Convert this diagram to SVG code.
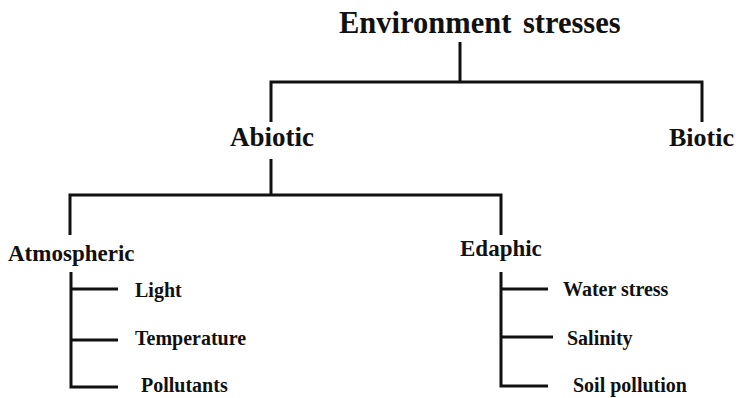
<svg xmlns="http://www.w3.org/2000/svg" width="736" height="398" viewBox="0 0 736 398">
  <style>
    .lbl { font-family: 'Liberation Serif', 'DejaVu Serif', serif; font-weight: 700; fill: #111; }
    .t0 { font-size: 30.5px; }
    .t1 { font-size: 27px; }
    .t2 { font-size: 23px; }
    .t3 { font-size: 20px; }
    .wire { fill: none; stroke: #111; stroke-width: 3; stroke-linejoin: miter; stroke-linecap: butt; }
  </style>
  <rect width="736" height="398" fill="#ffffff"/>

  <g id="connectors">
    <!-- root to Abiotic / Biotic -->
    <path class="wire" d="M460 42 V82"/>
    <path class="wire" d="M271 122 V82 H702 V122"/>
    <!-- Abiotic to Atmospheric / Edaphic -->
    <path class="wire" d="M271 159 V195"/>
    <path class="wire" d="M70 235 V195 H501 V235"/>
    <!-- Atmospheric factors -->
    <path class="wire" d="M71 272 V387 H118"/>
    <path class="wire" d="M71 289 H118"/>
    <path class="wire" d="M71 340 H118"/>
    <!-- Edaphic factors -->
    <path class="wire" d="M501 272 V386 H548"/>
    <path class="wire" d="M501 289 H548"/>
    <path class="wire" d="M501 337 H553"/>
  </g>

  <g id="node-root"><text class="lbl t0" x="339" y="33" word-spacing="4">Environment stresses</text></g>
  <g id="node-abiotic"><text class="lbl t1" x="230" y="146">Abiotic</text></g>
  <g id="node-biotic"><text class="lbl t1" x="669" y="146" style="font-size:26px">Biotic</text></g>
  <g id="node-atmospheric"><text class="lbl t2" x="8" y="261">Atmospheric</text></g>
  <g id="node-edaphic"><text class="lbl t2" x="460" y="256">Edaphic</text></g>

  <g id="node-light"><text class="lbl t3" x="135" y="297">Light</text></g>
  <g id="node-temperature"><text class="lbl t3" x="135" y="345">Temperature</text></g>
  <g id="node-pollutants"><text class="lbl t3" x="141" y="392">Pollutants</text></g>

  <g id="node-water"><text class="lbl t3" x="563" y="296">Water stress</text></g>
  <g id="node-salinity"><text class="lbl t3" x="567" y="345">Salinity</text></g>
  <g id="node-soil"><text class="lbl t3" x="573" y="392">Soil pollution</text></g>
</svg>
